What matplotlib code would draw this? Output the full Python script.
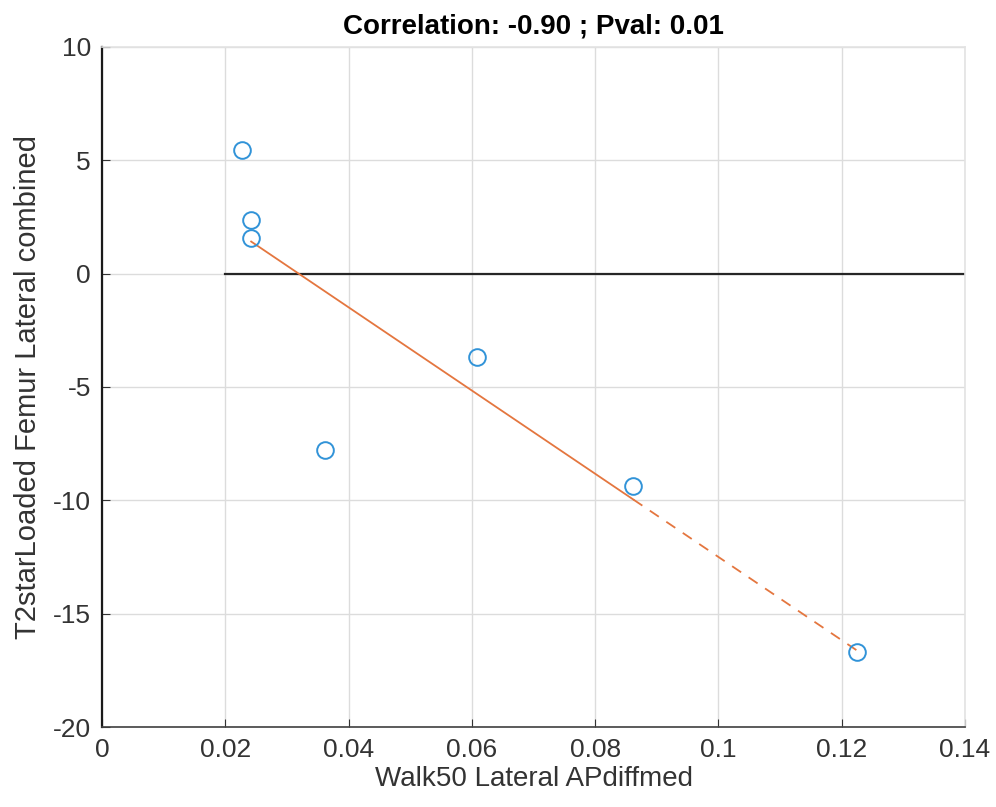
import numpy as np
import matplotlib.pyplot as plt

plt.rcParams['font.family'] = ['Liberation Sans', 'DejaVu Sans']
plt.rcParams['axes.unicode_minus'] = False

# gait measure vs T2* change
walk_ap = [0.02276, 0.02423, 0.02420, 0.03610, 0.06080, 0.08620, 0.12240]
t2star = [5.45, 2.35, 1.57, -7.78, -3.67, -9.37, -16.69]

# fitted line: solid over the bulk of the data, dashed out to the last point
solid_x = [0.02420, 0.08620]
dashed_x = [0.08620, 0.12240]

blue = '#3193D8'
orange = '#E4763F'

fig = plt.figure(figsize=(9.96, 8.07), dpi=100)
ax = fig.add_axes([0.1024, 0.0991, 0.8665, 0.8427])

slope, icpt = np.polyfit(walk_ap, t2star, 1)
sx = np.array(solid_x)
dx = np.array(dashed_x)
ax.plot(sx, slope * sx + icpt, '-', color=orange, lw=1.3, zorder=3)
ax.plot(dx, slope * dx + icpt, '--', color=orange, lw=1.3, dashes=(6, 5), zorder=3)

ax.plot(walk_ap, t2star, 'o', mfc='none', mec=blue, ms=12, mew=1.4, zorder=4)

ax.plot([0.02, 0.14], [0, 0], '-', color='#262626', lw=1.6, zorder=2)

ax.set_xlim(0, 0.14)
ax.set_ylim(-20, 10)
ax.set_xticks([0, 0.02, 0.04, 0.06, 0.08, 0.1, 0.12, 0.14])
ax.set_xticklabels(['0', '0.02', '0.04', '0.06', '0.08', '0.1', '0.12', '0.14'])
ax.set_yticks([-20, -15, -10, -5, 0, 5, 10])
ax.grid(True, color='#dcdcdc', lw=1.0)
ax.set_axisbelow(True)

ax.tick_params(direction='in', length=6, labelsize=19, colors='#333333', width=0.8)
ax.tick_params(axis='x', pad=8, top=False)
ax.tick_params(axis='y', pad=8, right=False)
for s in ['top', 'right']:
    ax.spines[s].set_color('#e3e3e3')
    ax.spines[s].set_linewidth(1.2)
ax.spines['left'].set_color('#1a1a1a')
ax.spines['left'].set_linewidth(1.6)
ax.spines['bottom'].set_color('#404040')
ax.spines['bottom'].set_linewidth(1.2)

ax.set_xlabel('Walk50 Lateral APdiffmed', fontsize=20, color='#333333', labelpad=3)
ax.set_ylabel('T2starLoaded Femur Lateral combined', fontsize=21, color='#333333', labelpad=8)
ax.set_title('Correlation: -0.90 ; Pval: 0.01', fontsize=20, fontweight='bold', pad=10)

fig.savefig('out.png', dpi=100)
